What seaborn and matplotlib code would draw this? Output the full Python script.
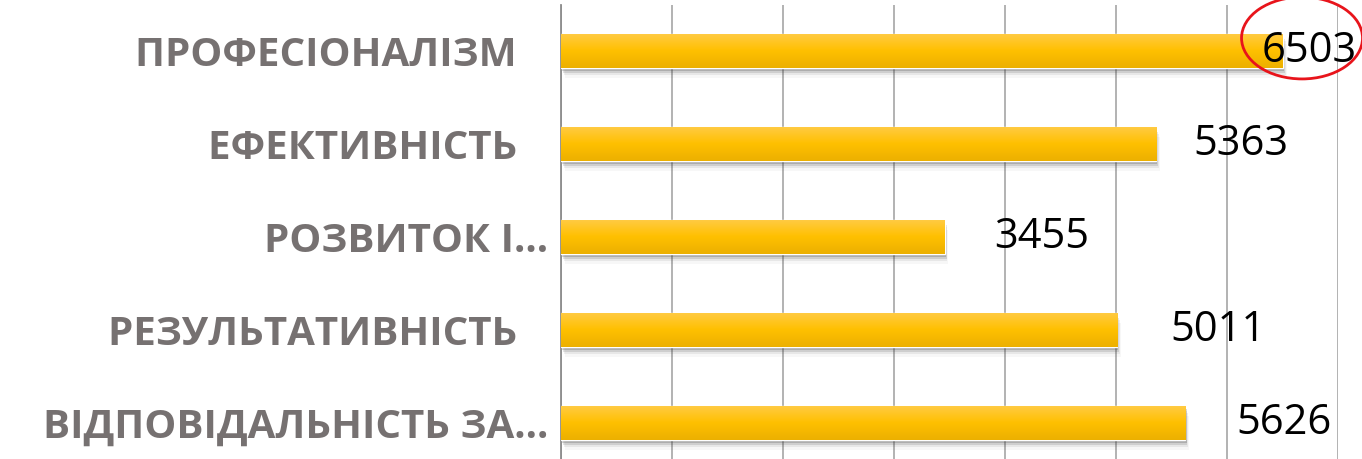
import numpy as np
import pandas as pd
import matplotlib
matplotlib.use("Agg")
import matplotlib.pyplot as plt
import seaborn as sns
from matplotlib.patches import Ellipse, Rectangle
from matplotlib.colors import LinearSegmentedColormap

# data
categories = ["ПРОФЕСІОНАЛІЗМ", "ЕФЕКТИВНІСТЬ", "РОЗВИТОК І...",
              "РЕЗУЛЬТАТИВНІСТЬ", "ВІДПОВІДАЛЬНІСТЬ ЗА..."]
tick_labels = ["ПРОФЕСІОНАЛІЗМ   ", "ЕФЕКТИВНІСТЬ   ", "РОЗВИТОК І...",
               "РЕЗУЛЬТАТИВНІСТЬ   ", "ВІДПОВІДАЛЬНІСТЬ ЗА..."]
values = [6503, 5363, 3455, 5011, 5626]
x_ticks = [0, 1000, 2000, 3000, 4000, 5000, 6000, 7000]

# label offsets from the bar end (points), Excel placed them unevenly
label_offsets = [-15, 27, 36, 38, 37]

df = pd.DataFrame({"category": categories, "value": values})

sns.set_theme(style="white")
plt.rcParams["font.family"] = ["Open Sans", "DejaVu Sans"]

fig = plt.figure(figsize=(13.62, 4.59), dpi=100)
ax = fig.add_axes([561 / 1362, 0.0, (1338 - 561) / 1362, 1 - 5 / 459])

sns.barplot(data=df, x="value", y="category", orient="h", color="#FFC000",
            width=0.366, ax=ax, zorder=3)

ax.set_xticks(x_ticks)
ax.xaxis.grid(True, color="#A6A6A6", linewidth=1.2, zorder=0)
ax.yaxis.grid(False)
ax.tick_params(axis="x", bottom=False, labelbottom=False)
ax.tick_params(axis="y", left=False, pad=3)
ax.set_yticks(range(len(categories)))
ax.set_yticklabels(tick_labels, fontsize=29, fontweight="bold", color="#767171")
ax.set_xlabel("")
ax.set_ylabel("")
for side in ["top", "right", "bottom"]:
    ax.spines[side].set_visible(False)
ax.spines["left"].set_color("#8C8C8C")
ax.spines["left"].set_linewidth(1.3)

# gold gradient + soft shadow on each bar
gold = LinearSegmentedColormap.from_list("gold", ["#FFCB45", "#FFC000", "#ECB000"])
grad = np.linspace(0, 1, 64).reshape(-1, 1)
for p in list(ax.patches):
    x0, y0, w, h = p.get_x(), p.get_y(), p.get_width(), p.get_height()
    for i, a in enumerate([0.22, 0.14, 0.08, 0.04]):
        d = 0.03 + 0.025 * i
        ax.add_patch(Rectangle((x0 + 10 + 8 * i, y0 + d), w, h, color="#3A3A3A",
                               alpha=a, lw=0, zorder=2))
    im = ax.imshow(grad, cmap=gold, aspect="auto", extent=(x0, x0 + w, y0 + h, y0),
                   zorder=4, interpolation="bicubic")
    im.set_clip_path(p)

ax.set_xlim(0, 7000)
ax.set_ylim(4.387, -0.495)

for i, v in enumerate(values):
    ax.annotate(str(v), xy=(v, i), xytext=(label_offsets[i], 0), textcoords="offset points",
                ha="left", va="center", fontsize=30, color="black", zorder=6,
                annotation_clip=False)

# red circle highlighting the top value
top = int(np.argmax(values))
ell = Ellipse((values[top] + 173, top - 0.14), width=1090, height=0.88,
              fill=False, edgecolor="#E8141B", linewidth=2, zorder=7, clip_on=False)
ax.add_patch(ell)

fig.savefig("out.png", dpi=100)
